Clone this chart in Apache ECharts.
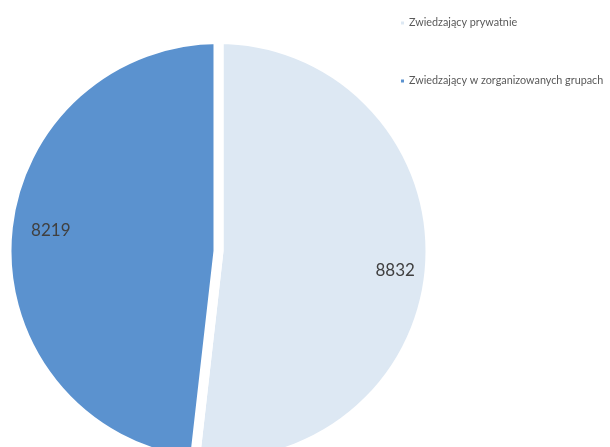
<!DOCTYPE html>
<html>
<head>
<meta charset="utf-8">
<script src="https://cdn.jsdelivr.net/npm/echarts@6/dist/echarts.min.js"></script>
<style>
html,body{margin:0;padding:0;background:#fff;}
#chart{width:610px;height:447px;}
</style>
</head>
<body>
<div id="chart"></div>
<script>
const categories = ['Zwiedzający prywatnie', 'Zwiedzający w zorganizowanych grupach'];
const values = [8832, 8219];
const colors = ['#DDE8F3', '#5B92CF'];

// small per-slice label nudges (style only)
const labelPads = [[0, 0, 0, 0], [0, 0, 0, 18]];
const labelFormats = ['\n{c}', '{c}\n'];

const pieData = categories.map((c, i) => ({ name: c, value: values[i], itemStyle: { color: colors[i] } }));
const labelData = categories.map((c, i) => ({
  name: c, value: values[i],
  label: { padding: labelPads[i], formatter: labelFormats[i] }
}));

const chart = echarts.init(document.getElementById('chart'), null, { renderer: 'canvas' });
chart.setOption({
  animation: false,
  backgroundColor: '#ffffff',
  legend: {
    orient: 'vertical',
    left: 394,
    top: 12,
    itemWidth: 5,
    itemHeight: 5,
    itemGap: 46,
    icon: 'rect',
    data: categories,
    textStyle: { fontFamily: 'Lato', fontSize: 10.8, color: '#595959', lineHeight: 12, padding: [0, 0, 0, -1] }
  },
  series: [
    {
      type: 'pie',
      center: [218.5, 251],
      radius: [0, 212],
      startAngle: 90,
      clockwise: true,
      silent: true,
      itemStyle: { borderColor: '#ffffff', borderWidth: 10 },
      label: { show: false },
      labelLine: { show: false },
      data: pieData
    },
    {
      type: 'pie',
      center: [218.5, 251],
      radius: [148, 200],
      startAngle: 90,
      clockwise: true,
      silent: true,
      itemStyle: { color: 'rgba(0,0,0,0)' },
      label: {
        show: true,
        position: 'inside',
        fontFamily: 'Lato',
        fontSize: 17,
        lineHeight: 20,
        color: '#404040'
      },
      labelLine: { show: false },
      data: labelData
    }
  ]
});
</script>
</body>
</html>
